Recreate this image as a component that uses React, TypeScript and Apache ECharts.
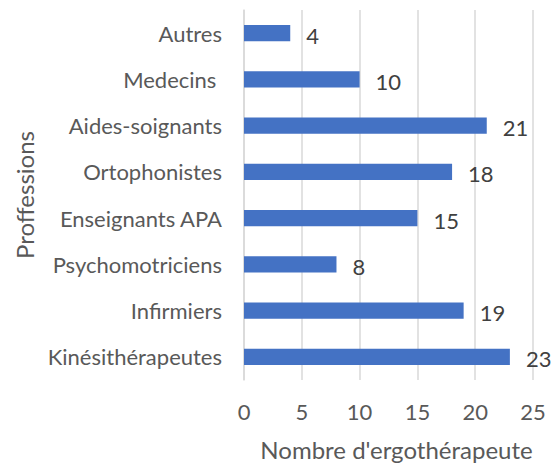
import React, { useEffect, useRef } from "react";
import * as echarts from "echarts";

const categories = [
  "Kinésithérapeutes",
  "Infirmiers",
  "Psychomotriciens",
  "Enseignants APA",
  "Ortophonistes",
  "Aides-soignants",
  "Medecins ",
  "Autres",
];
const values = [23, 19, 8, 15, 18, 21, 10, 4];
const xTicks = { min: 0, max: 25, interval: 5 };

const FONT = "Lato";

export default function App() {
  const ref = useRef<HTMLDivElement>(null);
  useEffect(() => {
    const chart = echarts.init(ref.current!, null, { renderer: "svg", width: 552, height: 468 });
    chart.setOption({
      animation: false,
      textStyle: { fontFamily: FONT },
      grid: { left: 244, right: 19, top: 10, bottom: 88, containLabel: false, outerBoundsMode: "none" },
      xAxis: {
        type: "value",
        min: xTicks.min,
        max: xTicks.max,
        interval: xTicks.interval,
        name: "Nombre d'ergothérapeute",
        nameLocation: "middle",
        nameGap: 57,
        nameTextStyle: { fontSize: 24, color: "#595959", fontFamily: FONT, padding: [0, 0, 0, 16] },
        axisLine: { show: false },
        axisTick: { show: false },
        axisLabel: { fontSize: 22, color: "#595959", margin: 20, fontFamily: FONT },
        splitLine: { show: true, lineStyle: { color: "#d9d9d9", width: 1.5 } },
      },
      yAxis: {
        type: "category",
        data: categories,
        name: "Proffessions",
        nameLocation: "middle",
        nameGap: 207,
        nameTextStyle: { fontSize: 24, color: "#595959", fontFamily: FONT },
        axisLine: { show: true, lineStyle: { color: "#d9d9d9", width: 1.5 } },
        axisTick: { show: false },
        axisLabel: { fontSize: 22, color: "#595959", margin: 22, fontFamily: FONT },
        splitLine: { show: false },
      },
      series: [
        {
          type: "bar",
          data: values,
          barWidth: "35%",
          itemStyle: { color: "#4472C4" },
          label: {
            show: true,
            position: "right",
            distance: 16,
            offset: [0, 2],
            fontSize: 22,
            color: "#404040",
            fontFamily: FONT,
          },
        },
      ],
    });
    return () => chart.dispose();
  }, []);
  return (
    <div
      ref={ref}
      style={{ position: "fixed", left: 0, top: 0, width: 552, height: 468, background: "#fff" }}
    />
  );
}
